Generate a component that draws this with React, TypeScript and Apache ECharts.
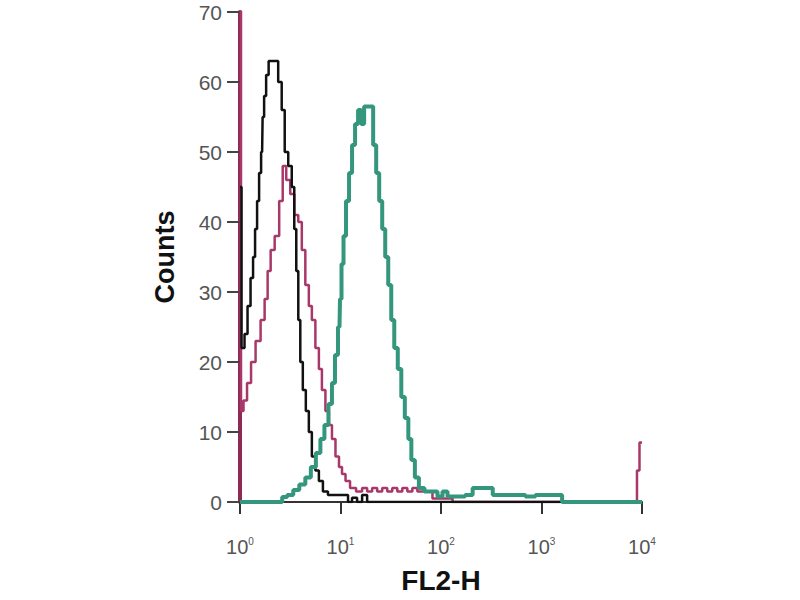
import React, { useEffect, useRef } from "react";
import * as echarts from "echarts";

// x positions are given as decade exponents (log10 of FL2-H); counts on y
const blackExp = [0, 0.03, 0.06, 0.09, 0.12, 0.14, 0.16, 0.18, 0.2, 0.22, 0.23, 0.25, 0.27, 0.3, 0.36, 0.4, 0.43, 0.46, 0.5, 0.53, 0.55, 0.57, 0.59, 0.61, 0.64, 0.67, 0.7, 0.73, 0.77, 0.8, 0.85, 0.9, 1.06, 1.09, 1.14, 1.19, 1.24, 1.29, 4.0];
const blackCounts = [45, 22, 24, 28, 32, 35, 39, 43, 47, 50, 55, 58, 61, 63, 63, 60, 56, 50, 48, 45, 39, 33, 26, 20, 16, 13, 10, 6.5, 4.5, 3, 1.5, 1, 1, 0, 0.6, 0, 1, 0, 0];

const magentaExp = [0, 0.02, 0.05, 0.09, 0.13, 0.18, 0.23, 0.26, 0.29, 0.32, 0.37, 0.41, 0.44, 0.48, 0.52, 0.56, 0.6, 0.63, 0.67, 0.7, 0.73, 0.77, 0.8, 0.83, 0.87, 0.9, 0.93, 0.97, 1.0, 1.03, 1.07, 1.12, 1.19, 1.24, 1.29, 1.34, 1.39, 1.44, 1.49, 1.54, 1.59, 1.64, 1.69, 1.74, 1.79, 1.89, 1.94, 2.09, 2.14, 3.94, 3.96, 3.99, 4.0];
const magentaCounts = [100, 13, 14.5, 17, 20, 23, 26, 29, 33, 36, 38, 43, 48, 46, 44, 41, 40, 36, 31, 28, 26, 22, 19, 16, 13, 11, 9, 6.5, 5, 4, 3, 2, 1.5, 2, 1.5, 2, 1.5, 2, 1.5, 2, 1.5, 2, 1.5, 2, 1.5, 1.5, 0.5, 0.5, 0, 0, 4.5, 8.5, 8.5];

const tealExp = [0, 0.4, 0.44, 0.5, 0.56, 0.62, 0.68, 0.73, 0.78, 0.82, 0.86, 0.9, 0.93, 0.96, 0.99, 1.0, 1.02, 1.04, 1.07, 1.1, 1.13, 1.16, 1.19, 1.22, 1.25, 1.31, 1.34, 1.37, 1.4, 1.43, 1.46, 1.49, 1.52, 1.55, 1.59, 1.62, 1.66, 1.69, 1.72, 1.76, 1.8, 1.87, 1.94, 1.99, 2.04, 2.09, 2.19, 2.29, 2.34, 2.49, 2.54, 2.79, 2.89, 2.99, 3.18, 3.23, 4.0];
const tealCounts = [0, 0, 0.7, 1, 1.7, 2.5, 3.5, 5, 7, 9, 11, 14, 17, 21, 25, 29, 34, 38, 43, 47, 51, 54, 56, 54, 56.5, 56.5, 51, 47, 43, 39, 35, 31, 26, 22, 19, 15, 12, 9, 6, 3.5, 2, 1.5, 1.5, 0.8, 1.5, 0.8, 0.8, 1, 2, 2, 1, 1, 0.8, 1, 1, 0, 0];

const yTicks = [0, 10, 20, 30, 40, 50, 60, 70];

const toPoints = (exps: number[], counts: number[]) =>
  exps.map((e, i) => [Math.pow(10, e), counts[i]]);

export default function App() {
  const ref = useRef<HTMLDivElement>(null);
  useEffect(() => {
    if (!ref.current) return;
    const chart = echarts.init(ref.current, undefined, { renderer: "svg" });
    const labelColor = "#555";
    chart.setOption({
      animation: false,
      backgroundColor: "#fff",
      grid: { left: 240, right: 158, top: 12, bottom: 98 },
      xAxis: {
        type: "log",
        logBase: 10,
        min: 1,
        max: 10000,
        name: "FL2-H",
        nameLocation: "middle",
        nameGap: 64,
        nameTextStyle: { fontFamily: "Liberation Sans, Arial", fontWeight: "bold", fontSize: 28, color: "#111" },
        axisLine: { show: true, lineStyle: { color: "#333", width: 2 } },
        axisTick: { show: true, length: 12, inside: false, lineStyle: { color: "#333", width: 2 } },
        minorTick: { show: false },
        splitLine: { show: false },
        axisLabel: {
          margin: 34,
          formatter: (v: number) => `{b|10}{s|${Math.round(Math.log10(v))}}`,
          rich: {
            b: { fontFamily: "Liberation Sans, Arial", fontSize: 20, color: labelColor, lineHeight: 22 },
            s: { fontFamily: "Liberation Sans, Arial", fontSize: 10, color: labelColor, verticalAlign: "top", lineHeight: 22, padding: [0, 0, 8, 0] },
          },
        },
      },
      yAxis: {
        type: "value",
        min: 0,
        max: 70,
        interval: 10,
        name: "Counts",
        nameLocation: "middle",
        nameGap: 62,
        nameTextStyle: { fontFamily: "Liberation Sans, Arial", fontWeight: "bold", fontSize: 27, color: "#111" },
        axisLine: { show: true, lineStyle: { color: "#8c2a55", width: 4 } },
        axisTick: { show: true, length: 13, lineStyle: { color: "#444", width: 2 } },
        splitLine: { show: false },
        axisLabel: {
          margin: 18,
          fontFamily: "Liberation Sans, Arial",
          fontSize: 21,
          color: labelColor,
          formatter: (v: number) => (yTicks.includes(v) ? String(v) : ""),
        },
      },
      series: [
        {
          type: "line",
          name: "isotype",
          step: "middle",
          showSymbol: false,
          clip: true,
          data: toPoints(magentaExp, magentaCounts),
          lineStyle: { color: "#a8386a", width: 2.5 },
          z: 2,
        },
        {
          type: "line",
          name: "control",
          step: "middle",
          showSymbol: false,
          clip: true,
          data: toPoints(blackExp, blackCounts),
          lineStyle: { color: "#111", width: 2.5 },
          z: 3,
        },
        {
          type: "line",
          name: "stained",
          step: "middle",
          showSymbol: false,
          clip: true,
          data: toPoints(tealExp, tealCounts),
          lineStyle: { color: "#34967c", width: 4 },
          z: 4,
        },
      ],
    });
    return () => chart.dispose();
  }, []);
  return <div ref={ref} style={{ width: 800, height: 600, position: "absolute", left: 0, top: 0 }} />;
}
